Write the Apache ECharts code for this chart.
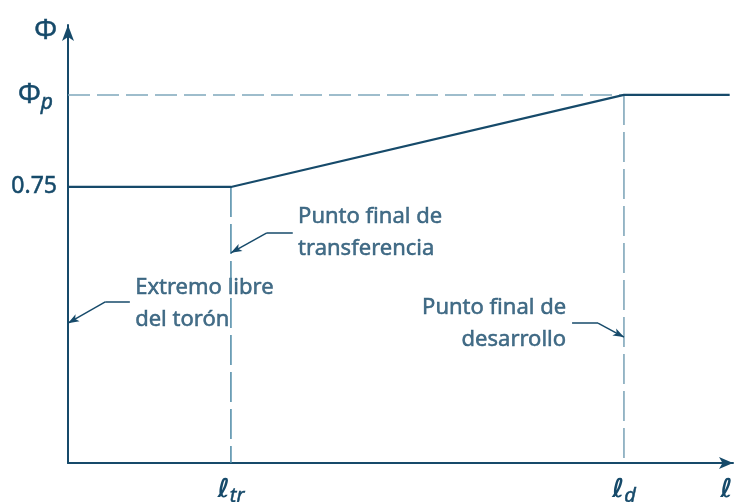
<!DOCTYPE html>
<html>
<head>
<meta charset="utf-8">
<script src="https://cdn.jsdelivr.net/npm/echarts@6/dist/echarts.min.js"></script>
<style>html,body{margin:0;padding:0;background:#fff}#c{width:739px;height:502px}</style>
</head>
<body>
<div id="c"></div>
<script>
// ---- data ----
var L_TR = 24.5, L_D = 83.6, L_END = 99.5;
var PHI_075 = 0.75, PHI_P = 1.0;
var curveX = [0, L_TR, L_D, L_END];
var curveY = [PHI_075, PHI_075, PHI_P, PHI_P];
var xTickValues = [L_TR, L_D, 99.4];
var xTickMain = ['ℓ', 'ℓ', 'ℓ'];
var xTickSub = ['tr', 'd', ' '];
var yTickValues = [PHI_075, PHI_P];
var yTickMain = ['0.75', 'Φ'];
var yTickSub = ['', 'p'];
var annoText = ['Extremo libre\ndel torón', 'Punto final de\ntransferencia', 'Punto final de\ndesarrollo'];
var annoPos = [[10.1, 0.432], [34.6, 0.625], [74.9, 0.378]];
var annoAlign = ['left', 'left', 'right'];
var leaderStart = [[9.3, 0.4375], [33.8, 0.625], [75.8, 0.380]];
var leaderKnee = [[5.6, 0.4375], [29.9, 0.625], [79.7, 0.380]];
var leaderTip = [[0, 0.380], [L_TR, 0.571], [L_D, 0.342]];

var DARK = '#164a6a';
var FONT = '"Noto Sans", "Open Sans", sans-serif';
var EMB = { textBorderColor: DARK, textBorderWidth: 0.5 };

var chart = echarts.init(document.getElementById('c'));

var curve = curveX.map(function (x, i) { return [x, curveY[i]]; });
var leaderLines = [];
for (var i = 0; i < leaderStart.length; i++) {
  leaderLines.push([{ coord: leaderStart[i], symbol: 'none' }, { coord: leaderKnee[i], symbol: 'none' }]);
  leaderLines.push([{ coord: leaderKnee[i], symbol: 'none' }, { coord: leaderTip[i], symbol: 'arrow', symbolSize: [6, 11] }]);
}
function ext(a, b) { var o = {}; for (var k in a) o[k] = a[k]; for (var k2 in b) o[k2] = b[k2]; return o; }

chart.setOption({
  animation: false,
  grid: { left: 68, right: 6, top: 25, bottom: 39, outerBoundsMode: 'none', containLabel: false },
  xAxis: {
    type: 'value', min: 0, max: 100,
    splitLine: { show: false },
    axisTick: { show: false },
    axisLine: { lineStyle: { color: DARK, width: 2 }, symbol: ['none', 'arrow'], symbolSize: [9, 14] },
    axisLabel: {
      customValues: xTickValues,
      margin: 11,
      formatter: function (v) {
        var k = xTickValues.indexOf(v);
        if (k < 0) return '';
        return '{m|' + xTickMain[k] + '}{s|' + xTickSub[k] + '}';
      },
      rich: {
        m: { fontFamily: 'DejaVu Sans', fontStyle: 'italic', fontWeight: 'bold', fontSize: 26, color: DARK },
        s: ext(EMB, { fontFamily: FONT, fontStyle: 'italic', fontSize: 20, color: DARK, padding: [12, 0, 0, 0] })
      }
    }
  },
  yAxis: {
    type: 'value', min: 0, max: 1.19,
    name: 'Φ', nameLocation: 'end', nameGap: -20,
    nameTextStyle: ext(EMB, { fontFamily: FONT, fontSize: 27, color: DARK, align: 'right', padding: [0, 11, 0, 0] }),
    splitLine: { show: false },
    axisTick: { show: false },
    axisLine: { lineStyle: { color: DARK, width: 2 }, symbol: ['none', 'arrow'], symbolSize: [9, 16] },
    axisLabel: {
      customValues: yTickValues,
      margin: 11,
      formatter: function (v) {
        var k = yTickValues.indexOf(v);
        if (k < 0) return '';
        if (yTickSub[k]) return '{b|' + yTickMain[k] + '}{s|' + yTickSub[k] + '}';
        return '{n|' + yTickMain[k] + '}';
      },
      rich: {
        n: ext(EMB, { fontFamily: FONT, fontSize: 23, color: DARK }),
        b: ext(EMB, { fontFamily: FONT, fontSize: 27, color: DARK }),
        s: ext(EMB, { fontFamily: FONT, fontStyle: 'italic', fontSize: 21, color: DARK, padding: [16, 4, 0, 0] })
      }
    }
  },
  series: [
    { type: 'line', data: [[0, PHI_P], [L_D, PHI_P]], symbol: 'none', silent: true,
      lineStyle: { color: '#7fa8bc', width: 1.5, type: [22, 7] } },
    { type: 'line', data: [[L_TR, PHI_075], [L_TR, 0]], symbol: 'none', silent: true,
      lineStyle: { color: '#4d89a6', width: 1.5, type: [30, 7] } },
    { type: 'line', data: [[L_D, PHI_P], [L_D, 0]], symbol: 'none', silent: true,
      lineStyle: { color: '#8fb1c2', width: 1.8, type: [30, 7] } },
    { type: 'line', data: curve, symbol: 'none', silent: true,
      lineStyle: { color: DARK, width: 2.2 } },
    { type: 'scatter', symbolSize: 0, silent: true,
      data: annoPos.map(function (p, i) {
        return { value: p, label: { show: true, position: 'inside', formatter: annoText[i], align: annoAlign[i], verticalAlign: 'middle', color: DARK, textBorderColor: DARK, textBorderWidth: 0.5 } };
      }),
      label: { fontFamily: FONT, fontSize: 22, lineHeight: 32, color: DARK },
      markLine: { silent: true, animation: false, label: { show: false }, symbol: ['none', 'none'],
        lineStyle: { color: DARK, width: 1.5, type: 'solid' }, data: leaderLines }
    }
  ]
});
</script>
</body>
</html>
